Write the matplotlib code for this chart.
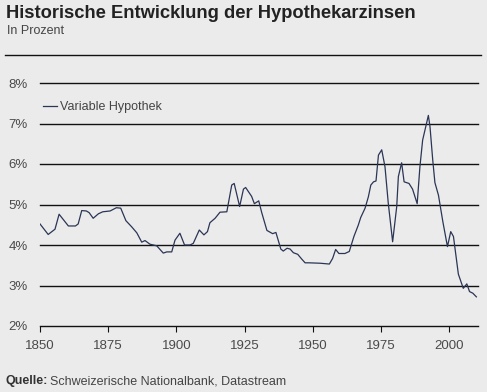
import matplotlib.pyplot as plt

years = [1850, 1853, 1855.5, 1857, 1860.4, 1863, 1864, 1865.3, 1867, 1868, 1869.5,
         1871.4, 1873, 1875.7, 1878, 1879.6, 1881.5, 1883.6, 1885.5, 1887.3, 1888.5,
         1890.3, 1892.8, 1894, 1895.2, 1896.5, 1898.3, 1899.5, 1901.3, 1903, 1905,
         1906.2, 1908.4, 1910.1, 1911.4, 1912.3, 1914.2, 1916, 1918.5, 1920.3, 1921.2,
         1923.2, 1924.6, 1925.4, 1927.6, 1928.6, 1930.2, 1931.3, 1933.2, 1935.3, 1936.5,
         1938.3, 1939.2, 1940.6, 1941.7, 1942.9, 1944.5, 1946, 1947.2, 1948.6, 1952.7,
         1956.1, 1957.3, 1958.4, 1959.6, 1961.8, 1963.4, 1965.1, 1966.7, 1967.6, 1969.2,
         1970.4, 1971.3, 1972.3, 1973.2, 1974.1, 1975.3, 1976.5, 1977.7, 1979.3, 1980.8,
         1981.4, 1982.6, 1983.5, 1985.3, 1986.6, 1988.3, 1989.3, 1990.3, 1992.4, 1993,
         1994, 1994.8, 1996.1, 1997.7, 1999.4, 2000.6, 2001.6, 2003.4, 2005.2, 2006.5,
         2007.5, 2008.7, 2010]
rate = [4.52, 4.26, 4.39, 4.76, 4.47, 4.47, 4.52, 4.85, 4.84, 4.80, 4.66,
        4.77, 4.82, 4.84, 4.92, 4.91, 4.60, 4.45, 4.30, 4.07, 4.11,
        4.02, 3.98, 3.89, 3.80, 3.83, 3.83, 4.12, 4.29, 4.00, 4.00,
        4.04, 4.37, 4.25, 4.33, 4.55, 4.66, 4.81, 4.82, 5.48, 5.52,
        4.95, 5.38, 5.42, 5.20, 5.02, 5.09, 4.80, 4.36, 4.28, 4.31,
        3.90, 3.85, 3.92, 3.90, 3.81, 3.77, 3.65, 3.56, 3.56, 3.55,
        3.53, 3.67, 3.89, 3.79, 3.79, 3.84, 4.21, 4.49, 4.68, 4.91,
        5.19, 5.48, 5.56, 5.58, 6.22, 6.35, 5.93, 5.03, 4.08, 4.95,
        5.69, 6.03, 5.56, 5.52, 5.38, 5.02, 5.93, 6.59, 7.20, 6.92,
        6.10, 5.54, 5.23, 4.58, 3.96, 4.33, 4.21, 3.28, 2.93, 3.04,
        2.85, 2.81, 2.72]

xticks = [1850, 1875, 1900, 1925, 1950, 1975, 2000]
yticks = [2, 3, 4, 5, 6, 7, 8]
ylabels = ['2%', '3%', '4%', '5%', '6%', '7%', '8%']

bg = '#ebebeb'
plt.rcParams['font.family'] = ['Liberation Sans', 'DejaVu Sans']

fig = plt.figure(figsize=(4.87, 3.92), dpi=100, facecolor=bg)
ax = fig.add_axes([40 / 487, 1 - 326 / 392, 438 / 487, 243 / 392], facecolor=bg)

for y in yticks[1:]:
    ax.axhline(y, color='#111111', lw=1.0, zorder=1, clip_on=False)
ax.plot(years, rate, color='#2b3556', lw=0.9, zorder=3, label='Variable Hypothek')

ax.set_xlim(1850, 2010.6)
ax.set_ylim(2, 8)
ax.set_xticks(xticks)
ax.set_yticks(yticks)
ax.set_yticklabels(ylabels)
for s in ['top', 'right', 'left']:
    ax.spines[s].set_visible(False)
ax.spines['bottom'].set_color('#111111')
ax.spines['bottom'].set_linewidth(1.0)
ax.tick_params(axis='x', direction='out', length=4, width=0.8, color='#111111',
               labelsize=9.5, labelcolor='#4a4a4a', pad=6)
ax.tick_params(axis='y', length=0, labelsize=9.5, labelcolor='#4a4a4a', pad=9)

leg = ax.legend(loc='upper left', bbox_to_anchor=(-0.01, 0.955), frameon=False,
                fontsize=9, handlelength=1.1, handletextpad=0.25, borderaxespad=0.2)
for t in leg.get_texts():
    t.set_color('#444444')

fig.text(6 / 487, 1 - 13 / 392, 'Historische Entwicklung der Hypothekarzinsen',
         fontsize=13.2, fontweight='bold', color='#222222', va='center', ha='left')
fig.text(7 / 487, 1 - 31 / 392, 'In Prozent', fontsize=9, color='#444444',
         va='center', ha='left')
fig.add_artist(plt.Line2D([5 / 487, 481 / 487], [1 - 55 / 392, 1 - 55 / 392],
                          color='#111111', lw=1.0))
fig.text(5 / 487, 1 - 381 / 392, 'Quelle:', fontsize=9, fontweight='bold',
         color='#333333', va='center', ha='left')
fig.text(50 / 487, 1 - 381 / 392, 'Schweizerische Nationalbank, Datastream',
         fontsize=9, color='#444444', va='center', ha='left')

fig.savefig('out.png', dpi=100, facecolor=bg)
